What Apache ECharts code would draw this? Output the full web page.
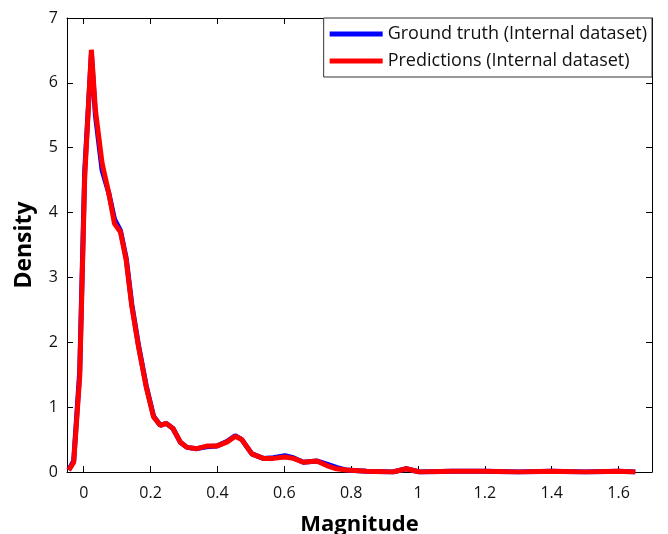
<!DOCTYPE html>
<html>
<head>
<meta charset="utf-8">
<script src="https://cdn.jsdelivr.net/npm/echarts@6/dist/echarts.min.js"></script>
<style>html,body{margin:0;padding:0;background:#fff}#c{width:668px;height:534px}</style>
</head>
<body>
<div id="c"></div>
<script>
var magnitude = [-0.045, -0.03, -0.012, 0.003, 0.023, 0.035, 0.055, 0.075, 0.092, 0.11, 0.127, 0.144, 0.164, 0.187, 0.209, 0.229, 0.247, 0.267, 0.289, 0.309, 0.338, 0.368, 0.398, 0.428, 0.453, 0.473, 0.503, 0.537, 0.567, 0.602, 0.627, 0.657, 0.697, 0.727, 0.756, 0.786, 0.846, 0.925, 0.965, 1.005, 1.1, 1.2, 1.3, 1.4, 1.5, 1.6, 1.65];
var groundTruth = [0.03, 0.17, 1.55, 4.65, 6.45, 5.5, 4.65, 4.3, 3.9, 3.72, 3.3, 2.58, 1.95, 1.33, 0.86, 0.72, 0.75, 0.67, 0.46, 0.38, 0.36, 0.39, 0.40, 0.47, 0.56, 0.50, 0.28, 0.21, 0.22, 0.25, 0.22, 0.15, 0.17, 0.12, 0.07, 0.03, 0.01, 0.00, 0.05, 0.00, 0.01, 0.01, 0.00, 0.01, 0.00, 0.01, 0.00];
var predictions = [0.03, 0.15, 1.47, 4.55, 6.51, 5.58, 4.76, 4.30, 3.83, 3.70, 3.27, 2.55, 1.93, 1.31, 0.85, 0.72, 0.75, 0.67, 0.46, 0.38, 0.36, 0.40, 0.40, 0.46, 0.55, 0.50, 0.28, 0.21, 0.21, 0.23, 0.21, 0.15, 0.17, 0.10, 0.05, 0.03, 0.01, 0.00, 0.05, 0.00, 0.01, 0.01, 0.00, 0.01, 0.00, 0.01, 0.00];
var xTicks = [0, 0.2, 0.4, 0.6, 0.8, 1, 1.2, 1.4, 1.6];
var seriesNames = ['Ground truth (Internal dataset)', 'Predictions (Internal dataset)'];

function pairs(ys){ return magnitude.map(function(x,i){ return [x, ys[i]]; }); }

var font = '"Open Sans", Lato, sans-serif';
var chart = echarts.init(document.getElementById('c'));
var tickStyle = {show:true, inside:true, length:6, lineStyle:{color:'#000', width:1}};
chart.setOption({
  animation:false,
  textStyle:{fontFamily:font},
  grid:{left:67, right:16, top:18, bottom:62, containLabel:false, outerBoundsMode:'none'},
  legend:{
    orient:'vertical', right:16, top:18,
    backgroundColor:'#fff', borderColor:'#333', borderWidth:1,
    padding:[6,5,6,6], itemGap:7, itemWidth:53, itemHeight:5, icon:'rect',
    textStyle:{fontSize:18, color:'#111', fontFamily:font, lineHeight:20},
    data:seriesNames
  },
  xAxis:[{
    type:'value', min:-0.05, max:1.7,
    name:'Magnitude', nameLocation:'middle', nameGap:42,
    nameTextStyle:{fontSize:22, fontWeight:'bold', color:'#000', fontFamily:font},
    axisLine:{show:true, onZero:false, lineStyle:{color:'#000', width:1}},
    axisTick:Object.assign({customValues:xTicks}, tickStyle),
    axisLabel:{customValues:xTicks, fontSize:16, color:'#111', margin:13, fontFamily:font},
    splitLine:{show:false}
  },{
    type:'value', min:-0.05, max:1.7, position:'top',
    axisLine:{show:true, onZero:false, lineStyle:{color:'#000', width:1}},
    axisTick:Object.assign({customValues:xTicks}, tickStyle),
    axisLabel:{show:false}, splitLine:{show:false}
  }],
  yAxis:[{
    type:'value', min:0, max:7, interval:1,
    name:'Density', nameLocation:'middle', nameGap:31, nameRotate:90,
    nameTextStyle:{fontSize:23, fontWeight:'bold', color:'#000', fontFamily:font},
    axisLine:{show:true, onZero:false, lineStyle:{color:'#000', width:1}},
    axisTick:tickStyle,
    axisLabel:{fontSize:16, color:'#111', margin:9, fontFamily:font},
    splitLine:{show:false}
  },{
    type:'value', min:0, max:7, interval:1, position:'right',
    axisLine:{show:true, onZero:false, lineStyle:{color:'#000', width:1}},
    axisTick:tickStyle, axisLabel:{show:false}, splitLine:{show:false}
  }],
  series:[{
    name:seriesNames[0], type:'line', data:pairs(groundTruth), showSymbol:false,
    lineStyle:{color:'#0000ff', width:5}, itemStyle:{color:'#0000ff'}, z:2
  },{
    name:seriesNames[1], type:'line', data:pairs(predictions), showSymbol:false,
    lineStyle:{color:'#ff0000', width:5}, itemStyle:{color:'#ff0000'}, z:3
  }]
});
</script>
</body>
</html>
